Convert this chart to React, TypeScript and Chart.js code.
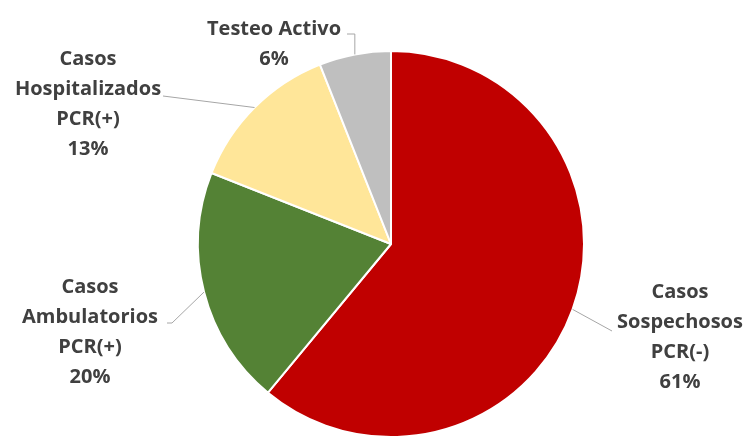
import React, { useEffect, useRef } from "react";
import { Chart, registerables } from "chart.js";

Chart.register(...registerables);

const categories = [
  "Casos Sospechosos PCR(-)",
  "Casos Ambulatorios PCR(+)",
  "Casos Hospitalizados PCR(+)",
  "Testeo Activo",
];
const labelLines = [
  ["Casos", "Sospechosos", "PCR(-)"],
  ["Casos", "Ambulatorios", "PCR(+)"],
  ["Casos", "Hospitalizados", "PCR(+)"],
  ["Testeo Activo"],
];
const values = [61, 20, 13, 6];
const colors = ["#C00000", "#548235", "#FFE699", "#BFBFBF"];

// Label placement relative to the pie centre (layout only)
const labelLayout = [
  { cx: 289, cy: 93, elbow: null as null | number[] | "v", end: [221, 87] },
  { cx: -301, cy: 88, elbow: [-219, 79], end: [-224, 79] },
  { cx: -303, cy: -140, elbow: null, end: [-228, -148] },
  { cx: -117, cy: -200, elbow: "v", end: [-44, -210] },
];

const FONT = "bold 20px 'Open Sans', 'DejaVu Sans', sans-serif";
const LINE_H = 30;

const labelPlugin = {
  id: "pieLabels",
  afterDatasetsDraw(chart: any) {
    const ctx = chart.ctx;
    const meta = chart.getDatasetMeta(0);
    meta.data.forEach((arc: any, i: number) => {
      const { x, y, startAngle, endAngle, outerRadius } = arc.getProps(
        ["x", "y", "startAngle", "endAngle", "outerRadius"],
        true
      );
      const mid = (startAngle + endAngle) / 2;
      const ax = x + Math.cos(mid) * outerRadius;
      const ay = y + Math.sin(mid) * outerRadius;
      const L = labelLayout[i];
      ctx.save();
      ctx.strokeStyle = "#A6A6A6";
      ctx.lineWidth = 1;
      ctx.beginPath();
      ctx.moveTo(ax, ay);
      if (L.elbow === "v") {
        ctx.lineTo(ax, y + L.end[1]);
      } else if (L.elbow) {
        ctx.lineTo(x + (L.elbow as number[])[0], y + (L.elbow as number[])[1]);
      }
      ctx.lineTo(x + L.end[0], y + L.end[1]);
      ctx.stroke();

      const lines = [...labelLines[i], values[i] + "%"];
      ctx.font = FONT;
      ctx.fillStyle = "#404040";
      ctx.textAlign = "center";
      ctx.textBaseline = "middle";
      const top = y + L.cy - ((lines.length - 1) * LINE_H) / 2;
      lines.forEach((t, k) => {
        ctx.fillText(t, x + L.cx, top + k * LINE_H);
      });
      ctx.restore();
    });
  },
};

export default function App() {
  const ref = useRef<HTMLCanvasElement | null>(null);
  useEffect(() => {
    if (!ref.current) return;
    const chart = new Chart(ref.current, {
      type: "pie",
      data: {
        labels: categories,
        datasets: [
          {
            data: values,
            backgroundColor: colors,
            borderColor: "#FFFFFF",
            borderWidth: 2,
          },
        ],
      },
      options: {
        responsive: true,
        maintainAspectRatio: false,
        animation: false,
        layout: { padding: { top: 50, bottom: 3, left: 197, right: 162 } },
        plugins: {
          legend: { display: false },
          tooltip: { enabled: false },
        },
      },
      plugins: [labelPlugin],
    });
    return () => chart.destroy();
  }, []);
  return (
    <div
      style={{
        position: "fixed",
        left: 0,
        top: 0,
        width: 747,
        height: 441,
        background: "#FFFFFF",
      }}
    >
      <canvas ref={ref} />
    </div>
  );
}
